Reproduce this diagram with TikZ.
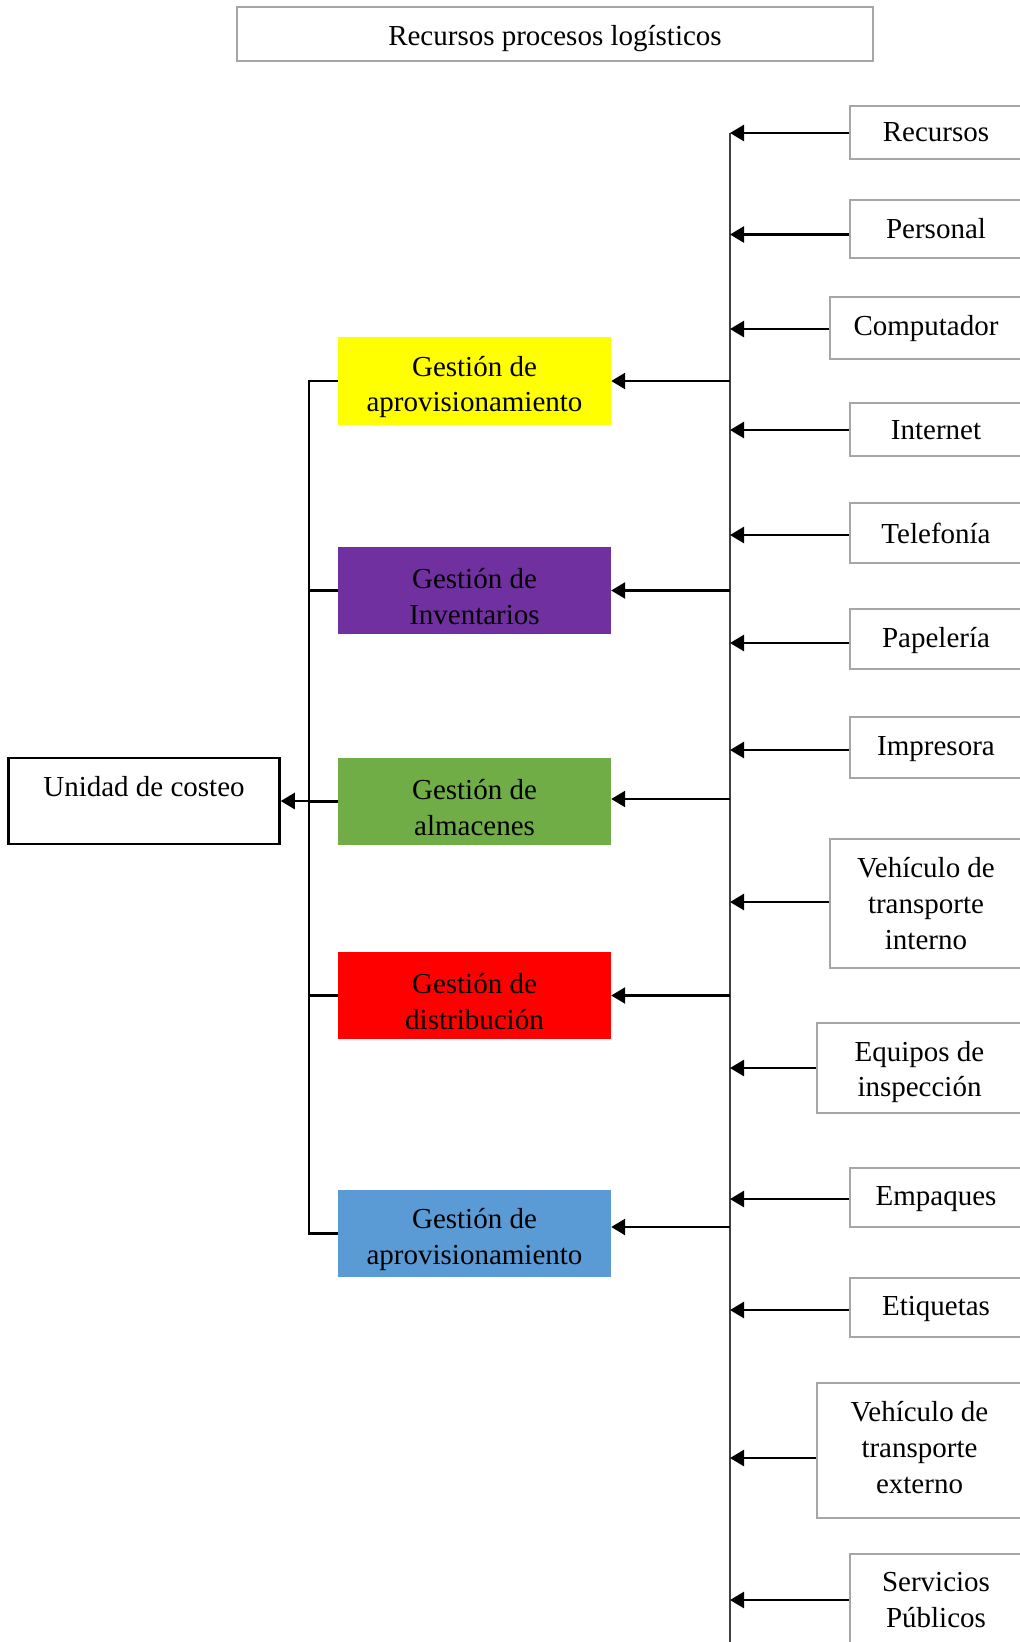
\documentclass[tikz,border=0pt]{standalone}
\usepackage{fontspec}
\setmainfont{Liberation Serif}
\usetikzlibrary{arrows.meta}
\definecolor{boxgray}{HTML}{A6A6A6}
\definecolor{busgray}{HTML}{404040}
\definecolor{gyellow}{HTML}{FFFF00}
\definecolor{gpurple}{HTML}{7030A0}
\definecolor{ggreen}{HTML}{70AD47}
\definecolor{gred}{HTML}{FF0000}
\definecolor{gblue}{HTML}{5B9BD5}
\begin{document}
\begin{tikzpicture}[x=1pt,y=-1pt,
  every node/.style={font=\fontsize{29}{35.6}\selectfont, align=center, inner sep=0pt},
  res/.style={draw=boxgray, line width=2.5pt, fill=white},
  proc/.style={minimum width=273pt, minimum height=87pt},
  feed/.style={line width=2.6pt, -{Triangle[length=14pt,width=16pt]}},
  trunk/.style={line width=2.8pt, line join=miter},
  busline/.style={draw=busgray, line width=1.5pt}
]
\useasboundingbox (0,0) rectangle (1020,1642);
\clip (0,0) rectangle (1020,1642);

% title
\node[res, minimum width=636pt, minimum height=54pt] (title) at (555,34) {};
\node (titletext) at ([yshift=-5pt]title.center) {Recursos procesos logísticos};

% cost unit
\node[draw=black, line width=2.5pt, minimum width=271pt, minimum height=86pt] (unidad) at (144,801) {};
\node (unidadtext) at ([yshift=14pt]unidad.center) {Unidad de costeo};

% management processes
\node[proc, fill=gyellow, minimum height=88pt] (g1) at (474.5,381) {};
\node[proc, fill=gpurple] (g2) at (474.5,590.5) {};
\node[proc, fill=ggreen] (g3) at (474.5,801.5) {};
\node[proc, fill=gred] (g4) at (474.5,995.5) {};
\node[proc, fill=gblue] (g5) at (474.5,1233.5) {};
\node (g1text) at ([yshift=-6pt]g1.center) {Gestión de\\aprovisionamiento};
\node (g2text) at ([yshift=-6pt]g2.center) {Gestión de\\Inventarios};
\node (g3text) at ([yshift=-6pt]g3.center) {Gestión de\\almacenes};
\node (g4text) at ([yshift=-6pt]g4.center) {Gestión de\\distribución};
\node (g5text) at ([yshift=-6pt]g5.center) {Gestión de\\aprovisionamiento};

% buses
\coordinate (bus) at (730,133);
\coordinate (busend) at (730,1645);
\coordinate (lbus) at (309,0);
\draw[busline] (bus) -- (busend);

% resources feeding the right bus
\foreach \nm/\cx/\cy/\w/\h/\sy/\ty/\txt in {
  r1/936/132.5/172/53/-0.5/0/{Recursos},
  r2/936/229/172/58/-5.5/0/{Personal},
  r3/926/328/192/62/-1/-1/{Computador},
  r4/936/429.5/172/53/-0.5/-1/{Internet},
  r5/936/533/172/60/-2/0/{Telefonía},
  r6/936/639/172/60/-4/-1/{Papelería},
  r7/936/747.5/172/61/-2.5/-2/{Impresora},
  r8/926/903.5/192/129/1.5/0/{Vehículo de\\transporte\\interno},
  r9/919.5/1068/205/90/0/-4/{Equipos de\\inspección},
  r10/936/1197.5/172/59/-1.5/-2/{Empaques},
  r11/936/1307.5/172/59/-2.5/-1/{Etiquetas},
  r12/919.5/1450.5/205/135/-7.5/3/{Vehículo de\\transporte\\externo},
  r13/936/1600/172/92/0/0/{Servicios\\Públicos}}
{
  \node[res, minimum width=\w pt, minimum height=\h pt] (\nm) at (\cx,\cy) {};
  \node (\nm text) at ([yshift=\ty pt]\nm.center) {\txt};
  \draw[feed] ([yshift=\sy pt]\nm.west) -- ([yshift=\sy pt]\nm.west -| bus);
}

% right bus into processes
\draw[feed] (g1.east -| bus) -- (g1.east);
\draw[feed] (g2.east -| bus) -- (g2.east);
\draw[feed] ([yshift=2.5pt]g3.east -| bus) -- ([yshift=2.5pt]g3.east);
\draw[feed] (g4.east -| bus) -- (g4.east);
\draw[feed] ([yshift=6.5pt]g5.east -| bus) -- ([yshift=6.5pt]g5.east);

% left trunk to the cost unit
\draw[trunk] (g1.west) -- (g1.west -| lbus) -- (g5.west -| lbus) -- (g5.west);
\draw[trunk] (g2.west) -- (g2.west -| lbus);
\draw[trunk] (g3.west) -- (g3.west -| lbus);
\draw[trunk] (g4.west) -- (g4.west -| lbus);
\draw[feed] (unidad.east -| lbus) -- (unidad.east);
\end{tikzpicture}
\end{document}
